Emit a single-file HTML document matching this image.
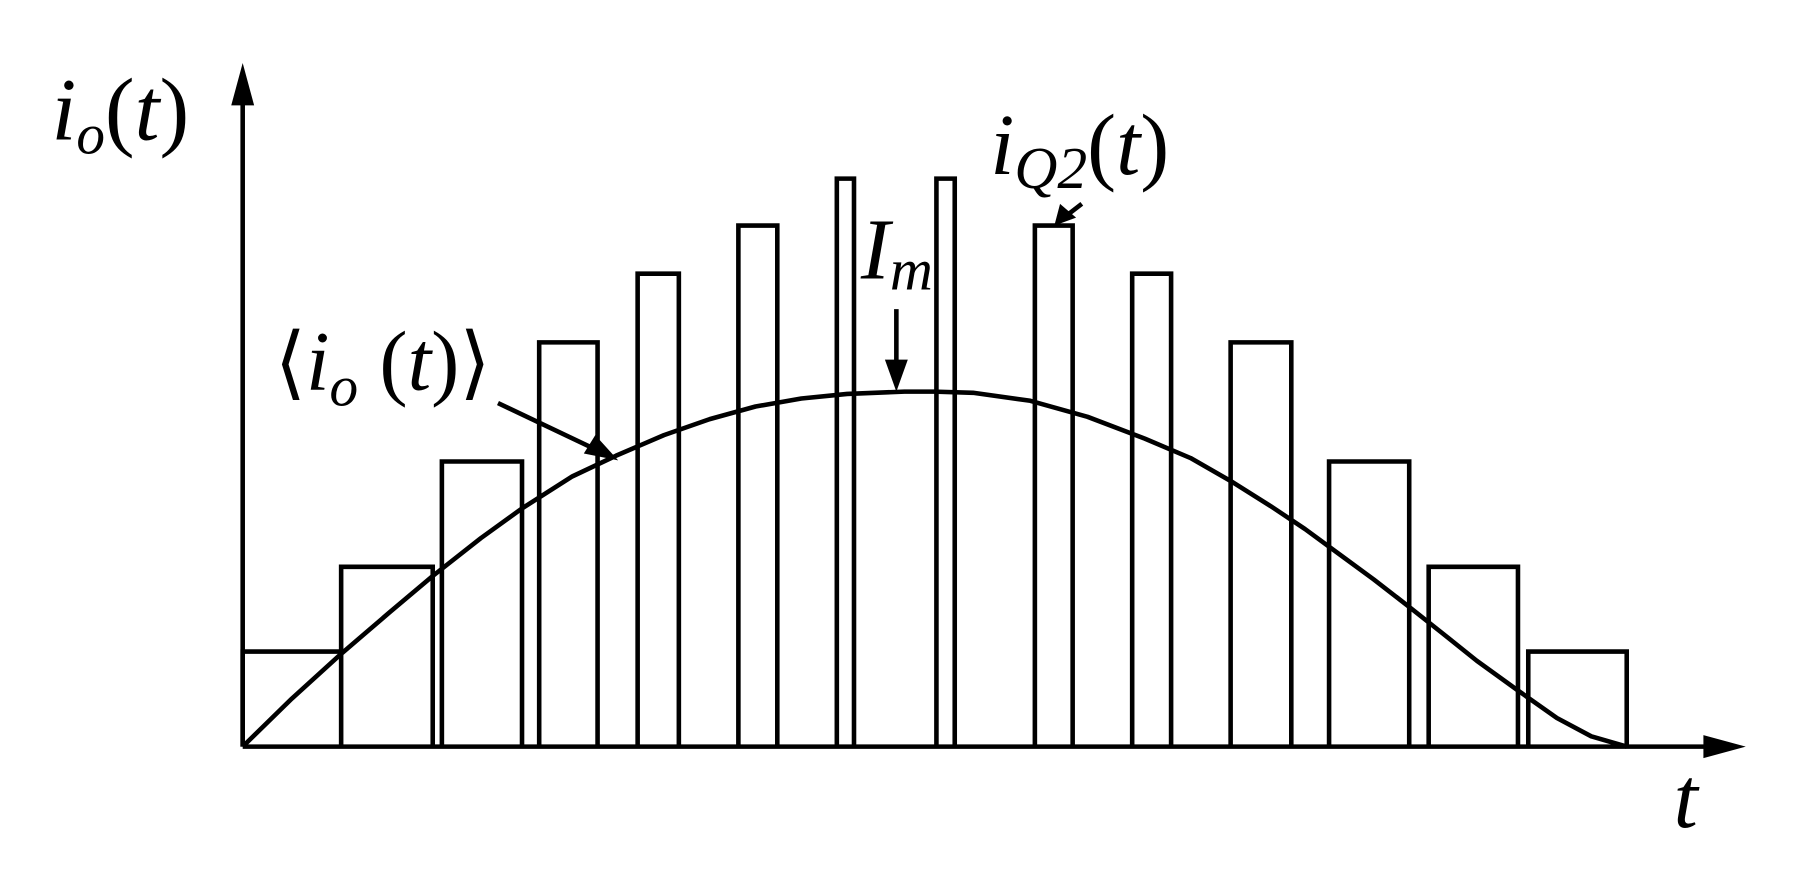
<!DOCTYPE html>
<html><head><style>html,body{margin:0;padding:0;background:#fff}</style></head>
<body>
<svg width="1795" height="868" viewBox="0 0 1568 758" preserveAspectRatio="none" xmlns="http://www.w3.org/2000/svg">
<g stroke="#000" stroke-width="4" fill="none">
<line x1="212" y1="652" x2="212" y2="80"/>
<line x1="212" y1="652" x2="1495" y2="652"/>
<path d="M212 652V569H298V652M298 652V495H378V652M386 652V403H456V652M471 652V299H522V652M557 652V239H593V652M645 652V197H679V652M731 652V156H746V652M818 652V156H834V652M904 652V197H937V652M989 652V239H1023V652M1075 652V299H1128V652M1161 652V403H1231V652M1248 652V495H1326V652M1335 652V569H1421V652"/>
<line x1="783" y1="270" x2="783" y2="318"/>
<line x1="945" y1="178" x2="932" y2="188"/>
<line x1="435" y1="352" x2="515" y2="390"/>
<polyline stroke-linejoin="round" points="212,652 255,610 298,571 340,535 378,503 420,470 456,444 500,416 538,398 580,380 620,366 660,355 700,348 740,344 790,342 816,342 850,343 900,350 950,364 1000,383 1040,400 1075,420 1110,442 1140,462 1170,484 1200,506 1231,530 1260,553 1290,577 1326,603 1360,627 1390,643 1421,652"/>
</g>
<g fill="#000">
<polygon points="212,55 202,92 222,92"/>
<polygon points="1525,652 1488,642 1488,662"/>
<polygon points="783,342 773,314 793,314"/>
<polygon points="921,197 926,178 940,190"/>
<polygon points="540,402 510,396 520,380"/>
</g>
<g font-family="Liberation Serif, serif" font-style="italic" fill="#000">
<text x="45" y="122" font-size="78">i<tspan font-size="50" dy="12">o</tspan><tspan dy="-12" font-style="normal">(</tspan>t<tspan font-style="normal">)</tspan></text>
<text x="865" y="152" font-size="76">i<tspan font-size="52" dy="12">Q2</tspan><tspan dy="-12" font-style="normal">(</tspan>t<tspan font-style="normal">)</tspan></text>
<text x="752" y="243" font-size="76">I<tspan font-size="52" dy="10">m</tspan></text>
<text x="1462" y="722" font-size="76">t</text>
<text x="240" y="340" font-size="74"><tspan font-style="normal" font-family="DejaVu Serif, serif" font-size="70">⟨</tspan>i<tspan font-size="50" dy="14">o</tspan><tspan dy="-14" font-style="normal"> (</tspan>t<tspan font-style="normal">)</tspan><tspan font-style="normal" font-family="DejaVu Serif, serif" font-size="70">⟩</tspan></text>
</g>
</svg>
</body></html>
